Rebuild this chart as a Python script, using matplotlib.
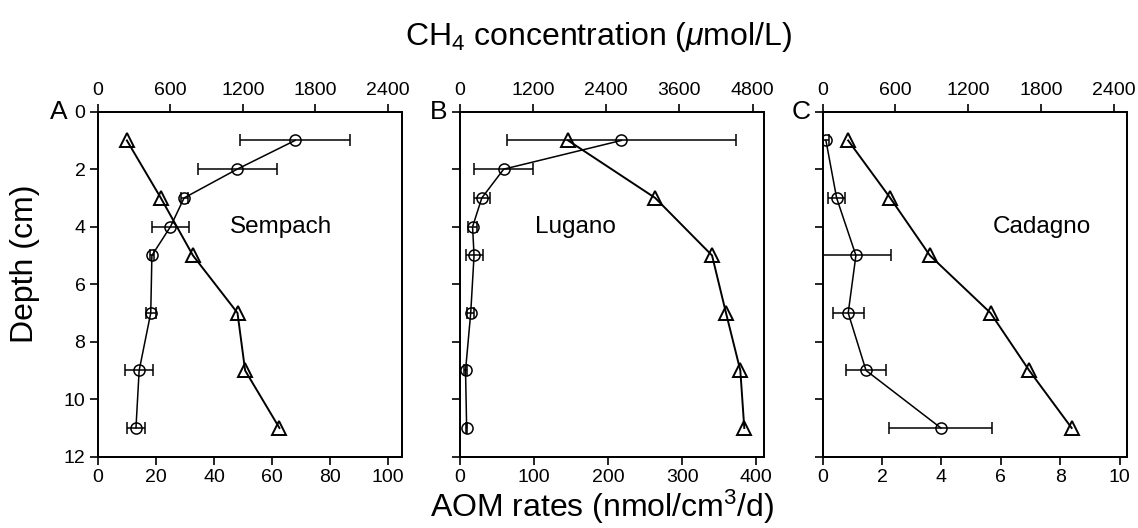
"""Depth profiles of AOM rates and CH4 concentration for three lakes."""

import matplotlib

matplotlib.use("Agg")
import matplotlib.pyplot as plt

plt.rcParams["font.family"] = ["Liberation Sans", "DejaVu Sans"]
plt.rcParams["mathtext.fontset"] = "custom"
plt.rcParams["mathtext.rm"] = "Liberation Sans"
plt.rcParams["mathtext.it"] = "Liberation Sans:italic"

# sampling depths (cm)
depth = [1, 2, 3, 4, 5, 7, 9, 11]
depth_ch4 = [1, 3, 5, 7, 9, 11]

# AOM rates (nmol/cm3/d) and their errors
aom_sempach = [68, 48, 29.7, 25, 18.6, 18.2, 14.2, 13.1]
aom_sempach_err = [19, 13.6, 1.2, 6.5, 0.8, 1.7, 4.8, 3.0]
aom_lugano = [218, 59, 29.5, 17, 19, 14.5, 7.5, 9]
aom_lugano_err = [155, 40, 11, 6, 11.5, 5, 1.5, 1.0]
aom_cadagno = [0.11, None, 0.47, None, 1.12, 0.86, 1.46, 3.98]
aom_cadagno_err = [0.1, None, 0.28, None, 1.18, 0.52, 0.67, 1.73]

# CH4 concentration (umol/L)
ch4_sempach = [239, 520, 786, 1155, 1218, 1502]
ch4_lugano = [1773, 3203, 4136, 4365, 4600, 4665]
ch4_cadagno = [210, 557, 884, 1384, 1703, 2053]

lakes = ["Sempach", "Lugano", "Cadagno"]
letters = ["A", "B", "C"]
aom = [aom_sempach, aom_lugano, aom_cadagno]
aom_err = [aom_sempach_err, aom_lugano_err, aom_cadagno_err]
ch4 = [ch4_sempach, ch4_lugano, ch4_cadagno]

bottom_lims = [105, 411, 10.25]
bottom_ticks = [[0, 20, 40, 60, 80, 100], [0, 100, 200, 300, 400], [0, 2, 4, 6, 8, 10]]
top_lims = [2520, 4995, 2510]
top_ticks = [[0, 600, 1200, 1800, 2400], [0, 1200, 2400, 3600, 4800],
             [0, 600, 1200, 1800, 2400]]
lefts = [0.0861, 0.4042, 0.7229]
name_x = [0.60, 0.38, 0.72]

fig = plt.figure(figsize=(11.38, 5.28), dpi=100)

tick_kw = dict(direction="out", length=6, width=1.2, labelsize=14, pad=3)

for i in range(3):
    ax = fig.add_axes([lefts[i], 0.135, 0.2675, 0.6535])
    for s in ax.spines.values():
        s.set_linewidth(1.3)

    # AOM rates on bottom axis
    d = [z for z, v in zip(depth, aom[i]) if v is not None]
    x = [v for v in aom[i] if v is not None]
    xe = [e for e in aom_err[i] if e is not None]
    ax.errorbar(x, d, xerr=xe, color="black", lw=1.1, marker="o", ms=8,
                mfc="none", mew=1.1, capsize=4, capthick=1.1, elinewidth=1.1,
                clip_on=True, zorder=3)
    ax.set_xlim(0, bottom_lims[i])
    ax.set_xticks(bottom_ticks[i])
    ax.set_ylim(12, 0)
    ax.set_yticks(range(0, 13, 2))
    ax.tick_params(axis="both", **tick_kw)
    if i > 0:
        ax.set_yticklabels([])

    # CH4 concentration on top axis
    ax2 = ax.twiny()
    ax2.plot(ch4[i], depth_ch4, color="black", lw=1.4, marker="^", ms=10,
             mfc="none", mew=1.4, zorder=3)
    ax2.set_xlim(0, top_lims[i])
    ax2.set_xticks(top_ticks[i])
    ax2.tick_params(axis="x", **tick_kw)
    ax2.set_ylim(12, 0)
    for s in ax2.spines.values():
        s.set_linewidth(1.3)

    ax.text(name_x[i], 4, lakes[i], transform=ax.get_yaxis_transform(),
            fontsize=17.5, ha="center", va="center")
    ax.text(-0.1 if i == 0 else -0.04, 1.0, letters[i], transform=ax.transAxes,
            fontsize=19, ha="right", va="center")

fig.text(0.022, 0.5, "Depth (cm)", rotation=90, fontsize=23, ha="center", va="center")
fig.text(0.529, 0.04, "AOM rates (nmol/cm$^3$/d)", fontsize=23, ha="center",
         va="center")
fig.text(0.526, 0.93, "CH$_4$ concentration ($\\mu$mol/L)", fontsize=23,
         ha="center", va="center")

fig.savefig("out.png", dpi=100)
